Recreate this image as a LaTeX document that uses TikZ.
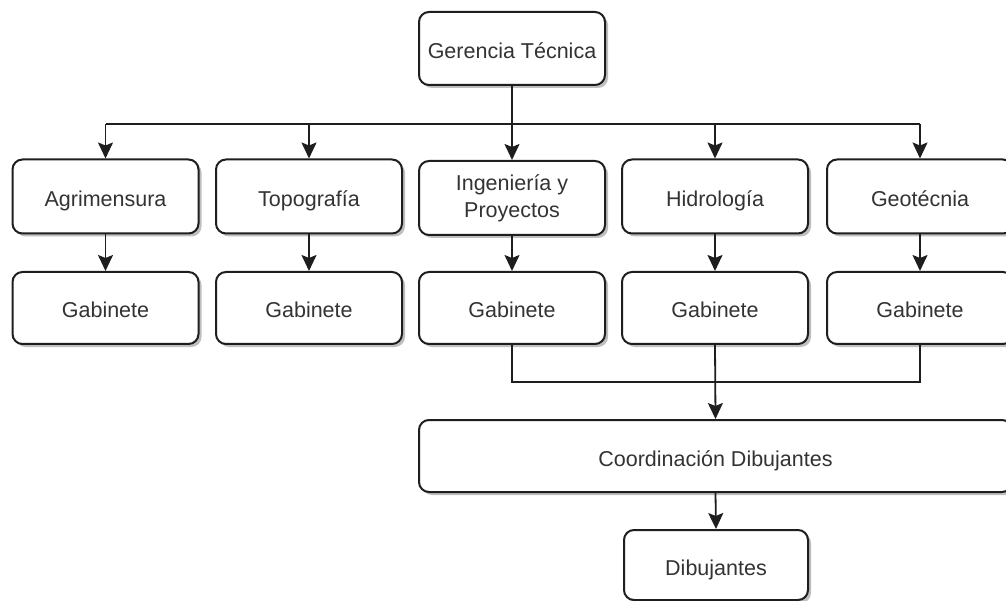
\documentclass[tikz,border=0pt]{standalone}
\usepackage{fontspec}
\setmainfont{Liberation Sans}
\usetikzlibrary{arrows.meta,shadows}
\definecolor{ink}{HTML}{1E1E1E}
\definecolor{txt}{HTML}{333333}
\begin{document}
\begin{tikzpicture}[x=1pt,y=-1pt,
  box/.style={draw=ink, line width=2pt, rounded corners=10pt, fill=white,
    minimum width=186pt, minimum height=74pt, align=center, text=txt,
    font=\fontsize{21.5}{27}\selectfont,
    drop shadow={shadow xshift=3pt, shadow yshift=-3pt, fill=black, opacity=0.25}},
  onebox/.style={box, text height=22pt, text depth=2pt},
  link/.style={draw=ink, line width=1.8pt},
  arr/.style={link, -{Stealth[length=16pt,width=15pt,inset=3pt]}}]
\useasboundingbox (0,0) rectangle (1006,601);
\clip (0,0) rectangle (1006,601);

% top of the hierarchy
\node[onebox, minimum height=73pt] (ger) at (512,48.5) {Gerencia Técnica};

% departments
\node[onebox] (agr) at (105.5,196.5) {Agrimensura};
\node[onebox] (top) at (309,196.5) {Topografía};
\node[box] (ing) at (512,198) {Ingeniería y\\Proyectos};
\node[onebox] (hid) at (715,196.5) {Hidrología};
\node[onebox] (geo) at (920,196.5) {Geotécnia};

% one office per department
\node[onebox, minimum height=72pt] (g1) at (105.5,308) {Gabinete};
\node[onebox, minimum height=72pt] (g2) at (309,308) {Gabinete};
\node[onebox, minimum height=72pt] (g3) at (512,308) {Gabinete};
\node[onebox, minimum height=72pt] (g4) at (715,308) {Gabinete};
\node[onebox, minimum height=72pt] (g5) at (920,308) {Gabinete};

% drafting
\node[onebox, minimum width=593pt, minimum height=72pt] (coord) at (715.5,456) {Coordinación Dibujantes};
\node[onebox, minimum width=184pt, minimum height=70pt] (dib) at (716,565) {Dibujantes};

% distribution bus under the management box
\draw[link] (ger.south) -- ++(0,38) coordinate (bus);
\draw[link] (bus -| agr) -- (bus -| geo);
\foreach \n in {agr,top,ing,hid,geo}
  \draw[arr] (bus -| \n) -- (\n.north);

% departments to their offices
\draw[arr] (agr.south) -- (g1.north);
\draw[arr] (top.south) -- (g2.north);
\draw[arr] (ing.south) -- (g3.north);
\draw[arr] (hid.south) -- (g4.north);
\draw[arr] (geo.south) -- (g5.north);

% offices feeding the drafting coordination
\draw[link] (g3.south) -- ++(0,37) coordinate (m) -| (g5.south);
\draw[arr] (g4.south) -- (coord.north);
\draw[arr] (coord.south) -- (dib.north);
\end{tikzpicture}
\end{document}
